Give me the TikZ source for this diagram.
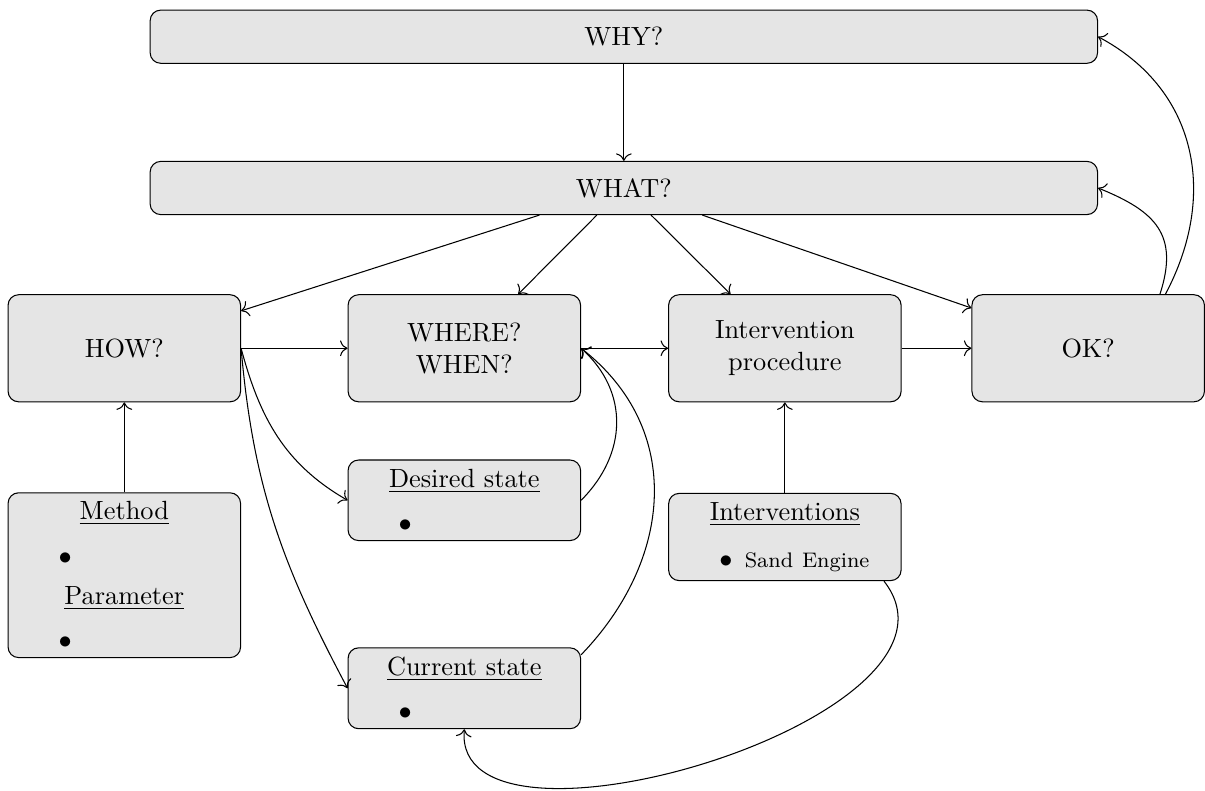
\documentclass[tikz,border=0pt]{standalone}
\usetikzlibrary{arrows.meta}
\newcommand{\bulletitem}[1]{\makebox[\linewidth][l]{\hspace*{15.9pt}$\bullet$\hspace{4.7pt}#1}}
\tikzset{
  box/.style={shape=rectangle, draw, rounded corners, fill=gray!20, align=center},
  widebox/.style={box, minimum width=12.65cm, minimum height=0.71cm},
  midbox/.style={box, text width=2.87cm, minimum height=1.43cm},
  listbox/.style={box, text width=2.87cm},
}
\begin{document}
\begin{tikzpicture}[>={To[scale=1.15]}]
\useasboundingbox (0,0) rectangle (16.09,-10.55);
\node (why) at (8.33,-0.49) [widebox]{WHY?};
\node (what) at (8.33,-2.51) [widebox]{WHAT?};
\node (how) at (1.66,-4.65) [midbox]{HOW?};
\node (where) at (6.20,-4.65) [midbox]{WHERE?\\WHEN?};
\node (procedure) at (10.48,-4.65) [midbox]{Intervention\\procedure};
\node (ok) at (14.53,-4.65) [midbox]{OK?};
\node (method) at (1.66,-7.68) [listbox, minimum height=2.19cm]{\underline{Method}\\[5pt]\bulletitem{}\\[3pt]\underline{Parameter}\\[5pt]\bulletitem{}};
\node (desired) at (6.20,-6.68) [listbox, minimum height=1.04cm]{\underline{Desired state}\\[5pt]\bulletitem{}};
\node (current) at (6.20,-9.19) [listbox, minimum height=1.03cm]{\underline{Current state}\\[5pt]\bulletitem{}};
\node (interventions) at (10.48,-7.17) [listbox, minimum height=1.10cm]{\underline{Interventions}\\[6pt]\bulletitem{\footnotesize Sand Engine}};
\draw [->] (why) to (what);
\draw [->] (what) to (how);
\draw [->] (what) to (where);
\draw [->] (what) to (procedure);
\draw [->] (what) to (ok);
\draw [->] (how) to (where);
\draw [->] (where) to (procedure);
\draw [->] (procedure) to (ok);
\draw [->] (method) to (how);
\draw [->] (interventions) to (procedure);
\draw [->] (how.east) to [out=-75, in=150] (desired.west);
\draw [->] (how.east) to [out=-85, in=118] (current.west);
\draw [->] (desired.east) to [out=45, in=-42, looseness=1.1] (where.east);
\draw [->] (current.16) to [out=46, in=-38, looseness=1.1] (where.east);
\draw [->] (interventions.-24) to [out=-52, in=-95, out looseness=1.0, in looseness=0.85] (current.south);
\draw [->] (ok.37) to [out=72, in=-22, looseness=1.3] (what.east);
\draw [->] (ok.35) to [out=62, in=-28, looseness=1.08] (why.east);
\end{tikzpicture}
\end{document}
